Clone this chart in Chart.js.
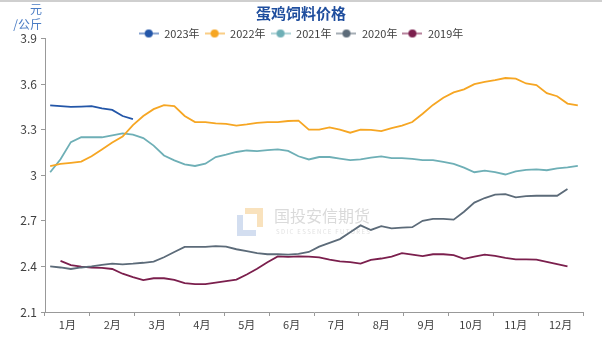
<!DOCTYPE html>
<html lang="zh">
<head>
    <meta charset="UTF-8">
    <title>蛋鸡饲料价格</title>
    <script src="https://cdn.jsdelivr.net/npm/chart.js"></script>
    <style>
        html, body {
            margin: 0;
            padding: 0;
            background: #fff;
        }
        #wrap {
            width: 602px;
            height: 340px;
        }
    </style>
</head>
<body>
    <div id="wrap"><canvas id="feedChart" width="602" height="340"></canvas></div>
    <script>
        // weekly prices, one value per week (x = week index + 0.5)
        const months = ["1月", "2月", "3月", "4月", "5月", "6月", "7月", "8月", "9月", "10月", "11月", "12月"];
        const yTicks = [2.1, 2.4, 2.7, 3.0, 3.3, 3.6, 3.9];
        const seriesNames = ["2023年", "2022年", "2021年", "2020年", "2019年"];
        const seriesColors = ["#2356a8", "#f6a623", "#6eafb6", "#5c6b79", "#7b1f4d"];

        const v2023 = [3.46, 3.455, 3.45, 3.452, 3.455, 3.44, 3.43, 3.39, 3.37];
        const v2022 = [3.06, 3.075, 3.082, 3.09, 3.125, 3.17, 3.215, 3.255, 3.33, 3.39,
            3.435, 3.462, 3.455, 3.39, 3.35, 3.35, 3.342, 3.338, 3.327, 3.335,
            3.345, 3.35, 3.35, 3.357, 3.36, 3.30, 3.30, 3.315, 3.30, 3.28,
            3.30, 3.298, 3.29, 3.31, 3.327, 3.35, 3.405, 3.463, 3.51, 3.545,
            3.565, 3.60, 3.615, 3.626, 3.64, 3.636, 3.604, 3.594, 3.54, 3.52,
            3.472, 3.46];
        const v2021 = [3.02, 3.105, 3.218, 3.25, 3.25, 3.25, 3.262, 3.275, 3.268, 3.245,
            3.195, 3.13, 3.098, 3.072, 3.061, 3.076, 3.12, 3.135, 3.153, 3.163,
            3.159, 3.165, 3.17, 3.16, 3.125, 3.104, 3.12, 3.12, 3.11, 3.10,
            3.105, 3.116, 3.124, 3.113, 3.113, 3.108, 3.10, 3.10, 3.088, 3.075,
            3.05, 3.02, 3.03, 3.02, 3.005, 3.025, 3.035, 3.039, 3.033, 3.045,
            3.052, 3.061];
        const v2020 = [2.40, 2.393, 2.383, 2.393, 2.40, 2.41, 2.418, 2.414, 2.418, 2.424,
            2.432, 2.46, 2.495, 2.528, 2.528, 2.528, 2.534, 2.53, 2.513, 2.50,
            2.487, 2.48, 2.48, 2.478, 2.483, 2.495, 2.53, 2.555, 2.58, 2.625,
            2.67, 2.64, 2.665, 2.65, 2.655, 2.658, 2.70, 2.713, 2.713, 2.708,
            2.76, 2.82, 2.85, 2.872, 2.876, 2.855, 2.862, 2.865, 2.865, 2.865,
            2.91];
        const v2019 = [null, 2.436, 2.408, 2.399, 2.393, 2.39, 2.383, 2.352, 2.33, 2.31,
            2.322, 2.322, 2.312, 2.29, 2.284, 2.284, 2.293, 2.303, 2.313, 2.347,
            2.385, 2.428, 2.466, 2.463, 2.466, 2.465, 2.459, 2.445, 2.433, 2.428,
            2.418, 2.443, 2.452, 2.465, 2.487, 2.477, 2.468, 2.48, 2.48, 2.474,
            2.45, 2.465, 2.478, 2.47, 2.456, 2.447, 2.447, 2.445, 2.43, 2.415,
            2.40];
        const allValues = [v2023, v2022, v2021, v2020, v2019];

        const FONT = "'Noto Sans CJK SC', 'Noto Sans', sans-serif";

        // small line + dot mark used in the legend
        function legendMark(color) {
            const c = document.createElement("canvas");
            c.width = 20;
            c.height = 10;
            const g = c.getContext("2d");
            g.globalAlpha = 0.55;
            g.strokeStyle = color;
            g.lineWidth = 2;
            g.beginPath();
            g.moveTo(0, 5);
            g.lineTo(20, 5);
            g.stroke();
            g.globalAlpha = 1;
            g.fillStyle = color;
            g.beginPath();
            g.arc(10, 5, 4, 0, Math.PI * 2);
            g.fill();
            return c;
        }

        const datasets = allValues.map((vals, i) => ({
            label: seriesNames[i],
            data: vals.map((v, k) => ({ x: k + 0.5, y: v })),
            borderColor: seriesColors[i],
            backgroundColor: seriesColors[i],
            borderWidth: 1.8,
            pointRadius: 0,
            pointStyle: legendMark(seriesColors[i]),
            tension: 0,
            xAxisID: "xw",
            yAxisID: "y"
        }));

        const extras = {
            id: "extras",
            beforeDraw(chart) {
                const ctx = chart.ctx;
                ctx.save();
                ctx.fillStyle = "#fff";
                ctx.fillRect(0, 0, chart.width, chart.height);
                ctx.fillStyle = "#cfcfcf";
                ctx.fillRect(0, 0, chart.width, 2);
                ctx.restore();
            },
            beforeDatasetsDraw(chart) {
                // watermark
                const ctx = chart.ctx;
                ctx.save();
                ctx.fillStyle = "#f9e2bd";
                ctx.fillRect(245, 208, 18, 6);
                ctx.fillRect(257, 208, 6, 19);
                ctx.fillStyle = "#d3def0";
                ctx.fillRect(237, 215, 6, 21);
                ctx.fillRect(237, 230, 19, 6);
                ctx.fillStyle = "#dadada";
                ctx.font = "16px " + FONT;
                ctx.textBaseline = "middle";
                ctx.fillText("国投安信期货", 274, 216);
                ctx.font = "6px " + FONT;
                ctx.fillStyle = "#e2e2e2";
                ctx.fillText("S D I C   E S S E N C E   F U T U R E S", 276, 232);
                ctx.restore();
            },
            afterDraw(chart) {
                const ctx = chart.ctx;
                ctx.save();
                ctx.fillStyle = "#4a7cc4";
                ctx.font = "12px " + FONT;
                ctx.textAlign = "right";
                ctx.textBaseline = "middle";
                ctx.fillText("元", 42, 9);
                ctx.fillText("/公斤", 42, 24);
                ctx.restore();
            }
        };

        new Chart(document.getElementById("feedChart"), {
            type: "line",
            data: { datasets: datasets },
            plugins: [extras],
            options: {
                responsive: false,
                animation: false,
                events: [],
                layout: { padding: { top: 0, right: 19, left: 19, bottom: 0 } },
                plugins: {
                    tooltip: { enabled: false },
                    title: {
                        display: true,
                        text: "蛋鸡饲料价格",
                        color: "#1f4e9e",
                        font: { family: FONT, size: 15, weight: "bold" },
                        padding: { top: 4, bottom: 1 }
                    },
                    legend: {
                        maxHeight: 15.5,
                        labels: {
                            usePointStyle: true,
                            pointStyleWidth: 20,
                            color: "#404040",
                            font: { family: FONT, size: 11 },
                            padding: 5
                        }
                    }
                },
                scales: {
                    x: {
                        type: "category",
                        labels: months,
                        offset: true,
                        grid: { offset: true, drawOnChartArea: false, tickLength: 4, color: "#999" },
                        border: { color: "#999" },
                        ticks: {
                            color: "#404040",
                            font: { family: FONT, size: 11 },
                            padding: 2,
                            maxRotation: 0,
                            autoSkip: false
                        },
                        afterFit: s => { s.height = 28; }
                    },
                    xw: {
                        type: "linear",
                        min: 0,
                        max: 52,
                        display: false
                    },
                    y: {
                        min: 2.1,
                        max: 3.9,
                        afterBuildTicks: s => { s.ticks = yTicks.map(v => ({ value: v })); },
                        grid: { drawOnChartArea: false, tickLength: 4, color: "#999" },
                        border: { color: "#999" },
                        ticks: {
                            color: "#404040",
                            font: { family: FONT, size: 12 },
                            padding: 4,
                            callback: v => String(Number(v.toFixed(1)))
                        },
                        afterFit: s => { s.width = 26; }
                    }
                }
            }
        });
    </script>
</body>
</html>
